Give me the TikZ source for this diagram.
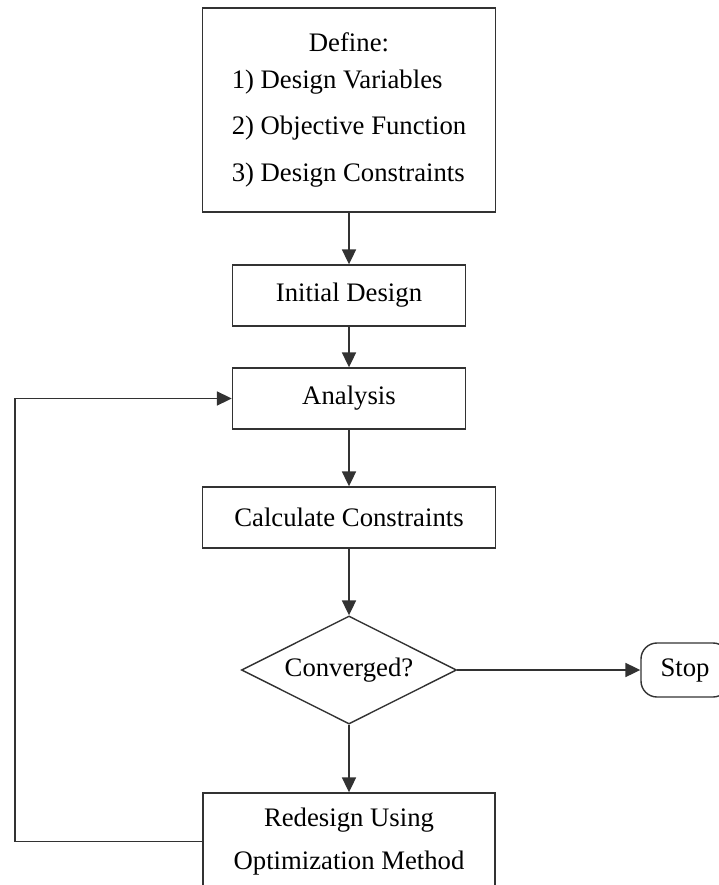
\documentclass[tikz,border=0pt]{standalone}
\usepackage{fontspec}
\setmainfont{Liberation Serif}
\usepackage{tikz}
\usetikzlibrary{arrows.meta, positioning, shapes.geometric, calc}

\begin{document}
\begin{tikzpicture}[x=0.025cm, y=-0.025cm,
    box/.style={rectangle, draw=linecolor, line width=1pt, inner sep=0pt, text centered,
        font=\fontsize{19}{23}\selectfont},
    decision/.style={diamond, draw=linecolor, line width=1pt, inner sep=0pt, aspect=2,
        minimum width=5.375cm, minimum height=2.7cm, font=\fontsize{19}{23}\selectfont},
    terminal/.style={rectangle, rounded corners=0.4cm, draw=linecolor, line width=1pt,
        minimum width=2.2cm, minimum height=1.35cm, inner sep=0pt, font=\fontsize{19}{23}\selectfont},
    arrow/.style={-{Triangle[length=0.37cm, width=0.35cm]}, draw=linecolor, line width=1pt}]

    % Define colors
    \definecolor{linecolor}{RGB}{50,50,50}

    % Frame
    \useasboundingbox (0,0) rectangle (718,885);

    % Nodes
    \node[box, minimum width=7.325cm, minimum height=5.1cm] (define) at (349,110)
        {\begin{tabular}{@{}l@{}}
            \multicolumn{1}{@{}c@{}}{Define:}\\[3pt]
            1) Design Variables\\[10pt]
            2) Objective Function\\[10pt]
            3) Design Constraints
        \end{tabular}};
    \node[box, minimum width=5.825cm, minimum height=1.525cm] (init) at (349,295.5) {Initial Design};
    \node[box, minimum width=5.825cm, minimum height=1.525cm] (analysis) at (349,398.5) {Analysis};
    \node[box, minimum width=7.325cm, minimum height=1.525cm] (calc) at (349,517.5) {Calculate Constraints};
    \node[decision] (conv) at (349,670) {Converged?};
    \node[terminal] (stop) at (685,670) {Stop};
    \node[box, minimum width=7.3cm, minimum height=2.425cm, align=center] (redesign) at (349,841.5)
        {Redesign Using\\[7pt] Optimization Method};
    \coordinate (loop) at (15,620);

    % Arrows
    \draw[arrow] (define.south) -- (init.north);
    \draw[arrow] (init.south) -- (analysis.north);
    \draw[arrow] (analysis.south) -- (calc.north);
    \draw[arrow] (calc.south) -- (conv.north);
    \draw[arrow] (conv.east) -- (stop.west);
    \draw[arrow] (conv.south) -- (redesign.north);

    % Loop back to analysis
    \draw[arrow] (redesign.west) -| (loop) |- (analysis.west);

\end{tikzpicture}
\end{document}
